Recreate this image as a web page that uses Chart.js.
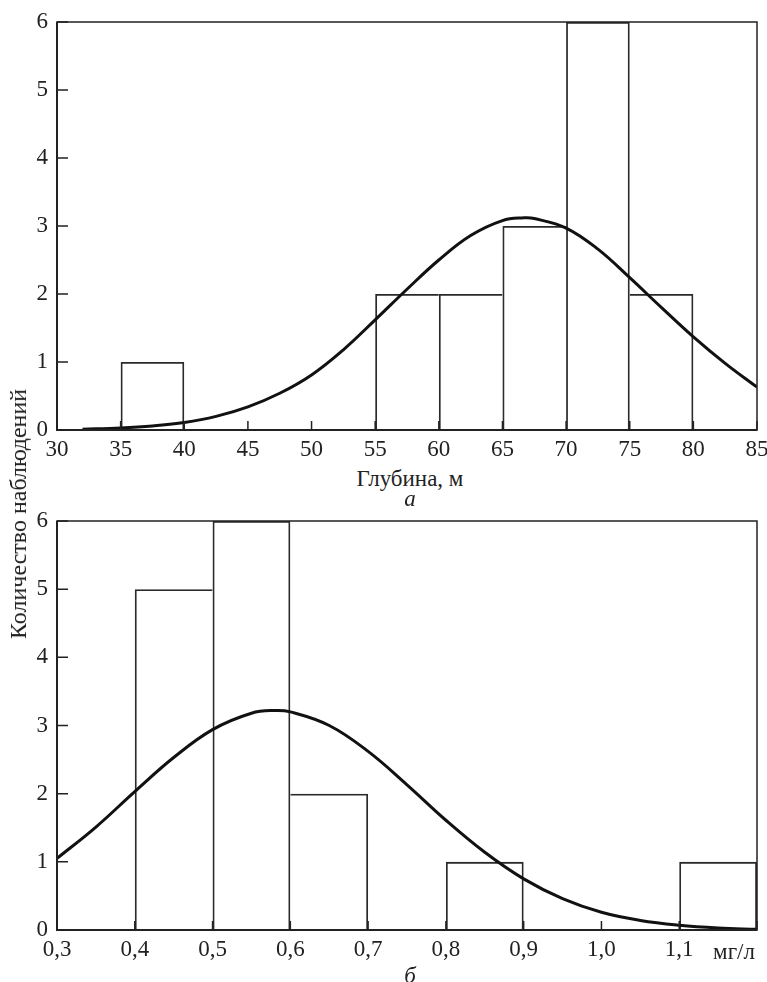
<!DOCTYPE html>
<html>
<head>
<meta charset="utf-8">
<script src="https://cdn.jsdelivr.net/npm/chart.js@4"></script>
<style>
  body { margin: 0; background: #fff; }
  #wrap { position: relative; width: 767px; height: 982px; font-family: 'Liberation Serif', serif; color: #222; }
  canvas { position: absolute; left: 0; }
  .lbl { position: absolute; font-size: 23px; white-space: nowrap; transform: translate(-50%, -50%); line-height: 1; }
  .it { font-style: italic; }
  #ytitle { font-size: 24px; transform: translate(-50%, -50%) rotate(-90deg); }
</style>
</head>
<body>
<div id="wrap">
  <canvas id="graphA" style="top:0"></canvas>
  <canvas id="graphB" style="top:500px"></canvas>
  <div class="lbl" id="ytitle" style="left:18px; top:514px">Количество наблюдений</div>
  <div class="lbl" style="left:410px; top:478px">Глубина, м</div>
  <div class="lbl it" style="left:410px; top:498px">а</div>
  <div class="lbl" style="left:734px; top:951px">мг/л</div>
  <div class="lbl it" style="left:410px; top:975px">б</div>
</div>
<script>
// а) глубина: середины интервалов и число наблюдений
let binsA = [37.5, 57.5, 62.5, 67.5, 72.5, 77.5];
let countsA = [1, 2, 2, 3, 6, 2];
// кривая нормального распределения
let curveAx = [32, 35, 37.5, 40, 42.5, 45, 47.5, 50, 52.5, 55, 57.5, 60, 62.5, 65, 66.7, 67.5, 70, 72.5, 75, 77.5, 80, 82.5, 85];
let curveAy = [0.01, 0.03, 0.06, 0.11, 0.2, 0.34, 0.54, 0.81, 1.18, 1.62, 2.07, 2.5, 2.86, 3.08, 3.12, 3.11, 2.97, 2.66, 2.24, 1.8, 1.37, 0.98, 0.63];

// б) концентрация, мг/л
let binsB = [0.45, 0.55, 0.65, 0.85, 1.15];
let countsB = [5, 6, 2, 1, 1];
let curveBx = [0.3, 0.35, 0.4, 0.45, 0.5, 0.55, 0.58, 0.6, 0.65, 0.7, 0.75, 0.8, 0.85, 0.9, 0.95, 1.0, 1.05, 1.1, 1.15, 1.2];
let curveBy = [1.05, 1.51, 2.03, 2.53, 2.94, 3.18, 3.22, 3.2, 3.0, 2.62, 2.13, 1.61, 1.14, 0.75, 0.46, 0.26, 0.14, 0.07, 0.03, 0.01];

let yTicks = [0, 1, 2, 3, 4, 5, 6];

Chart.defaults.font.family = "'Liberation Serif', serif";
Chart.defaults.font.size = 23;
Chart.defaults.color = '#222';

// рамка и внутренние засечки
const ramka = {
    id: 'ramka',
    afterDatasetsDraw(chart) {
        const {ctx, chartArea: a, scales: {x, y}} = chart;
        ctx.save();
        ctx.strokeStyle = '#222';
        ctx.lineWidth = 1.5;
        ctx.strokeRect(a.left, a.top, a.right - a.left, a.bottom - a.top);
        ctx.lineWidth = 2;
        ctx.beginPath();
        ctx.moveTo(a.left, a.top); ctx.lineTo(a.left, a.bottom); ctx.lineTo(a.right, a.bottom);
        ctx.stroke();
        ctx.lineWidth = 1.5;
        ctx.beginPath();
        y.ticks.forEach(t => {
            const py = y.getPixelForValue(t.value);
            ctx.moveTo(a.left, py); ctx.lineTo(a.left + 11, py);
        });
        x.ticks.forEach(t => {
            const px = x.getPixelForValue(t.value);
            ctx.moveTo(px, a.bottom); ctx.lineTo(px, a.bottom - 9);
        });
        ctx.stroke();
        ctx.restore();
    }
};

function grafico(id, bins, counts, cx, cy, xmin, xmax, step, fmt, padTop) {
    const canvas = document.getElementById(id);
    canvas.width = 767;
    canvas.height = 460;
    canvas.style.width = '767px';
    canvas.style.height = '460px';
    const barras = bins.map((b, i) => ({x: b, y: counts[i]}));
    const curva = cx.map((v, i) => ({x: v, y: cy[i]}));
    // общую границу соседних столбиков рисует более высокий
    const vecino = (b, dir) => {
        const j = bins.findIndex(o => Math.abs(o - (b + dir * step)) < step / 100);
        return j < 0 ? null : counts[j];
    };
    const w = 1.8;
    const borde = c => {
        const b = bins[c.dataIndex], h = counts[c.dataIndex];
        const izq = vecino(b, -1), der = vecino(b, 1);
        return {
            top: w,
            left: (izq === null || izq <= h) ? w : 0,
            right: (der === null || der < h) ? w : 0,
            bottom: 0
        };
    };
    new Chart(canvas, {
        type: 'bar',
        data: {
            datasets: [{
                type: 'line',
                data: curva,
                borderColor: '#111',
                borderWidth: 3,
                pointRadius: 0,
                tension: 0.4,
                fill: false,
                order: 0
            }, {
                type: 'bar',
                data: barras,
                backgroundColor: 'rgba(255,255,255,0)',
                borderColor: '#2a2a2a',
                borderWidth: borde,
                borderSkipped: false,
                inflateAmount: 0,
                barPercentage: 1,
                categoryPercentage: 1,
                order: 1
            }]
        },
        options: {
            responsive: false,
            animation: false,
            layout: {padding: {top: padTop, right: 10, left: 0, bottom: 0}},
            plugins: {legend: {display: false}, tooltip: {enabled: false}},
            scales: {
                x: {
                    type: 'linear',
                    min: xmin, max: xmax,
                    offset: false,
                    grid: {display: false, drawTicks: false, offset: false},
                    border: {display: false},
                    ticks: {stepSize: step, padding: 6, maxRotation: 0, autoSkip: false, callback: fmt},
                    afterFit: s => { s.height = 30; s.paddingRight = 0; s.paddingLeft = 0; }
                },
                y: {
                    min: 0, max: 6,
                    grid: {display: false, drawTicks: false},
                    border: {display: false},
                    ticks: {stepSize: 1, padding: 9},
                    afterBuildTicks: s => { s.ticks = yTicks.map(v => ({value: v})); },
                    afterFit: s => { s.width = 57; s.paddingTop = 0; s.paddingBottom = 0; }
                }
            }
        },
        plugins: [ramka]
    });
}

document.addEventListener('DOMContentLoaded', () => {
    grafico('graphA', binsA, countsA, curveAx, curveAy, 30, 85, 5, v => String(v), 22);
    grafico('graphB', binsB, countsB, curveBx, curveBy, 0.3, 1.2, 0.1,
        v => (Math.abs(v - 1.2) < 1e-6 ? '' : v.toFixed(1).replace('.', ',')), 21);
});
</script>
</body>
</html>
